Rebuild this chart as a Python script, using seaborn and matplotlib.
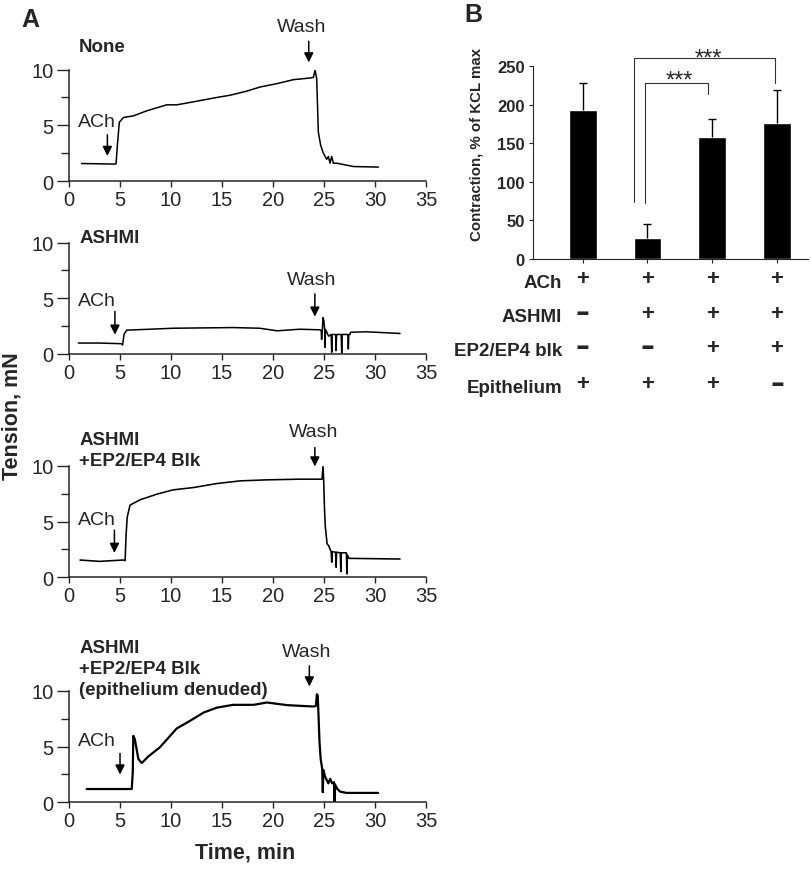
import numpy as np
import matplotlib
matplotlib.use("Agg")
import matplotlib.pyplot as plt
import seaborn as sns

# ---- Panel A: tension traces (time in min, tension in mN) ----
none_t = [1.24, 4.51, 4.61, 4.74, 4.93, 5.33, 6.31, 7.61, 9.58, 10.56, 11.54, 14.48,
          15.78, 17.42, 18.73, 20.36, 21.99, 23.63, 23.95, 24.12, 24.28, 24.44, 24.67,
          24.93, 25.26, 25.42, 25.59, 25.75, 25.91, 26.24, 27.88, 30.33]
none_y = [1.57, 1.52, 1.55, 3.2, 5.27, 5.7, 5.85, 6.3, 6.84, 6.84, 7.0, 7.5,
          7.7, 8.07, 8.44, 8.74, 9.1, 9.25, 9.3, 9.95, 9.2, 4.4, 3.2,
          2.5, 1.95, 2.2, 1.6, 2.2, 1.6, 1.6, 1.3, 1.25]

ashmi_t = [0.92, 2.98, 5.16, 5.25, 5.4, 5.65, 7.9, 10.2, 16.1, 18.7, 20.4, 22.6,
           24.6, 24.72, 24.76, 24.82, 24.9, 24.98, 25.06, 25.1, 25.14, 25.3, 25.45,
           25.7, 25.75, 25.8, 26.13, 26.18, 26.23, 26.68, 26.73, 26.78, 27.33, 27.38,
           27.43, 27.55, 27.6, 29.2, 32.45]
ashmi_y = [0.98, 0.98, 0.92, 0.8, 1.78, 2.14, 2.22, 2.31, 2.37, 2.31, 2.08, 2.22,
           2.17, 2.1, 1.3, 2.0, 3.26, 3.0, 2.2, 0.6, 2.2, 1.9, 1.6,
           1.75, 0.15, 1.75, 1.75, 0.3, 1.75, 1.75, 0.1, 1.75, 1.75, 0.45,
           1.75, 1.75, 1.95, 1.99, 1.84]

ep_t = [1.08, 2.98, 5.3, 5.5, 5.59, 5.7, 5.98, 6.96, 8.6, 10.2, 12.2, 14.5, 16.8,
        19.4, 22.6, 24.8, 24.9, 24.96, 25.05, 25.12, 25.3, 25.45, 25.6, 25.7, 25.75,
        25.8, 26.13, 26.18, 26.23, 26.59, 26.64, 26.69, 27.19, 27.24, 27.29, 27.45,
        32.45]
ep_y = [1.55, 1.43, 1.55, 1.5, 3.73, 5.37, 6.48, 6.96, 7.46, 7.85, 8.06, 8.42, 8.66,
        8.75, 8.81, 8.81, 9.94, 8.8, 6.0, 4.6, 3.0, 2.85, 2.5, 2.3, 1.34,
        2.3, 2.25, 0.9, 2.25, 2.2, 0.5, 2.2, 2.2, 0.3, 2.0, 1.7,
        1.64]

den_t = [1.73, 6.15, 6.25, 6.3, 6.45, 6.8, 7.13, 7.78, 8.9, 10.56, 11.86, 13.2, 14.5,
         16.1, 18.1, 19.4, 21.4, 23.95, 24.2, 24.3, 24.38, 24.45, 24.55, 24.67, 24.82,
         24.88, 24.93, 25.1, 25.26, 25.42, 25.6, 25.8, 25.98, 26.03, 26.08, 26.3,
         26.57, 27.2, 30.3]
den_y = [1.19, 1.19, 2.7, 5.97, 5.67, 3.88, 3.52, 4.12, 4.93, 6.63, 7.31, 8.06, 8.5,
         8.75, 8.75, 8.96, 8.72, 8.6, 8.65, 9.7, 9.6, 8.0, 5.5, 3.88, 3.0,
         0.9, 2.9, 2.3, 2.0, 1.7, 2.1, 1.7, 1.8, -0.3, 1.6, 1.2,
         0.96, 0.84, 0.84]

panel_titles = ["None", "ASHMI", "ASHMI\n+EP2/EP4 Blk", "ASHMI\n+EP2/EP4 Blk\n(epithelium denuded)"]
title_y = [12.1, 10.5, 11.4, 12.0]
line_w = [1.1, 1.1, 1.15, 1.6]
# ACh arrow: x, tail y, head y ; Wash arrow: x, tail y, head y ; label positions
ach_arrow = [(3.76, 4.4, 2.0), (4.5, 4.07, 1.48), (4.45, 4.48, 1.94), (5.0, 4.63, 2.24)]
ach_label_y = [5.3, 4.8, 5.2, 5.52]
wash_arrow = [(23.5, 12.8, 10.4), (24.1, 5.64, 3.1), (24.1, 11.9, 9.7), (23.56, 12.5, 10.15)]
wash_label = [(22.8, 13.9), (23.8, 6.7), (23.95, 13.1), (23.3, 13.5)]

# ---- Panel B: contraction bars ----
groups = ["g1", "g2", "g3", "g4"]
contraction = [193, 27, 158, 176]
contraction_err = [35, 18, 24, 43]
row_labels = ["ACh", "ASHMI", "EP2/EP4 blk", "Epithelium"]
row_signs = [["+", "+", "+", "+"],
             ["\u2013", "+", "+", "+"],
             ["\u2013", "\u2013", "+", "+"],
             ["+", "+", "+", "\u2013"]]

sns.set_style("ticks")
plt.rcParams["font.family"] = ["Liberation Sans", "DejaVu Sans"]

fig = plt.figure(figsize=(8.12, 8.70), dpi=100)

a_bottoms = [0.7908, 0.5920, 0.3353, 0.0767]
series = [(none_t, none_y), (ashmi_t, ashmi_y), (ep_t, ep_y), (den_t, den_y)]
for k, (t, y) in enumerate(series):
    ax = fig.add_axes([0.085, a_bottoms[k], 0.4397, 0.128])
    sns.lineplot(x=t, y=y, ax=ax, color="black", lw=line_w[k], sort=False, estimator=None)
    ax.set_xlim(0, 35)
    ax.set_ylim(0, 10)
    ax.set_xticks(range(0, 36, 5))
    ax.set_yticks([0, 5, 10])
    ax.set_yticks([2.5, 7.5], minor=True)
    ax.tick_params(axis="y", which="major", length=9, width=1, labelsize=14.5, pad=2)
    ax.tick_params(axis="y", which="minor", length=6, width=1)
    ax.tick_params(axis="x", length=4.5, width=1, labelsize=14.5, pad=2)
    for s in ["left", "bottom"]:
        ax.spines[s].set_linewidth(1.1)
    sns.despine(ax=ax)
    ax.set_xlabel("")
    ax.set_ylabel("")
    # ACh / Wash arrows
    ax_x, ax_tail, ax_head = ach_arrow[k]
    ax.annotate("", xy=(ax_x, ax_head), xytext=(ax_x, ax_tail),
                arrowprops=dict(arrowstyle="-|>", color="black", lw=1.1, mutation_scale=14),
                annotation_clip=False)
    ax.text(2.7, ach_label_y[k], "ACh", ha="center", va="center", fontsize=14, clip_on=False)
    wx, w_tail, w_head = wash_arrow[k]
    ax.annotate("", xy=(wx, w_head), xytext=(wx, w_tail),
                arrowprops=dict(arrowstyle="-|>", color="black", lw=1.1, mutation_scale=14),
                annotation_clip=False)
    ax.text(wash_label[k][0], wash_label[k][1], "Wash", ha="center", va="center",
            fontsize=14, clip_on=False)
    ax.text(1.0, title_y[k], panel_titles[k], ha="left", va="center", fontsize=13.5,
            fontweight="bold", linespacing=1.3, clip_on=False)

fig.text(0.037, 0.977, "A", fontsize=18, fontweight="bold", ha="center", va="center")
fig.text(0.015, 0.522, "Tension, mN", fontsize=15.5, fontweight="bold", rotation=90,
         ha="center", va="center")
fig.text(0.302, 0.019, "Time, min", fontsize=15.5, fontweight="bold", ha="center", va="center")

# panel B
axb = fig.add_axes([0.6564, 0.7011, 0.3387, 0.2218])
sns.barplot(x=groups, y=contraction, ax=axb, color="black", width=0.43,
            saturation=1, errorbar=None)
eb = axb.errorbar(range(len(groups)), contraction, yerr=[[0] * 4, contraction_err],
                  fmt="none", ecolor="black", elinewidth=1, capsize=3, capthick=1)
eb[1][0].set_visible(False)  # only the upper cap
axb.set_xlim(-0.768, 3.48)
axb.set_ylim(0, 250)
axb.set_yticks(range(0, 251, 50))
axb.set_xticklabels([])
axb.tick_params(axis="y", length=3, labelsize=12, pad=3)
axb.tick_params(axis="x", length=3)
for lab in axb.get_yticklabels():
    lab.set_fontweight("bold")
axb.set_ylabel("Contraction, % of KCL max", fontsize=10.8, fontweight="bold")
axb.yaxis.set_label_coords(-0.18, 0.60)
axb.set_xlabel("")
sns.despine(ax=axb)

# significance brackets
axb.plot([0.96, 0.96, 1.94, 1.94], [72, 228, 228, 214], color="#333333", lw=0.8, clip_on=False)
axb.plot([0.79, 0.79, 2.97, 2.97], [74, 260, 260, 228], color="#333333", lw=0.8, clip_on=False)
axb.text(1.5, 223, "***", ha="center", va="baseline", fontsize=17, clip_on=False)
axb.text(1.94, 252.5, "***", ha="center", va="baseline", fontsize=17, clip_on=False)

# condition table under the bars
row_y = [-30, -75, -119, -166]
for lab, signs, ry in zip(row_labels, row_signs, row_y):
    axb.text(-0.32, ry, lab, ha="right", va="center", fontsize=13.5, fontweight="bold",
             clip_on=False)
    for i, s in enumerate(signs):
        if s == "+":
            axb.text(i, ry + 5, s, ha="center", va="center", fontsize=16, fontweight="bold",
                     clip_on=False)
        else:
            axb.text(i, ry + 6, s, ha="center", va="center", fontsize=20, fontweight="bold",
                     family="DejaVu Sans", clip_on=False)

fig.text(0.583, 0.983, "B", fontsize=18, fontweight="bold", ha="center", va="center")

fig.savefig("out.png", dpi=100)
